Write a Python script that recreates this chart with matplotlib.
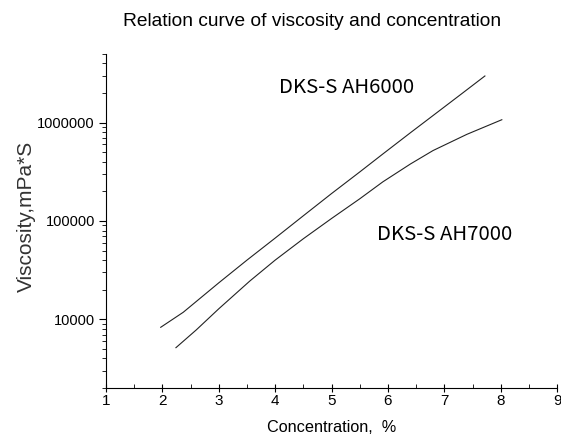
import matplotlib
matplotlib.use("Agg")
import matplotlib.pyplot as plt
from matplotlib.ticker import FixedLocator, LogLocator, NullFormatter, FuncFormatter

conc_6000 = [1.97, 2.37, 3.0, 3.5, 4.0, 4.5, 5.0, 5.5, 5.91, 6.4, 6.8, 7.3, 7.72]
visc_6000 = [8300, 11800, 23500, 40000, 67000, 113000, 190000, 315000,
             480000, 790000, 1180000, 1950000, 2980000]
conc_7000 = [2.24, 2.6, 3.0, 3.55, 4.0, 4.5, 5.0, 5.5, 5.91, 6.4, 6.8, 7.4, 8.02]
visc_7000 = [5150, 7800, 12800, 24500, 40000, 66000, 106000, 168000,
             250000, 380000, 520000, 760000, 1070000]

x_ticks = [1, 2, 3, 4, 5, 6, 7, 8, 9]
y_ticks = [10000, 100000, 1000000]

FONT = ["Liberation Sans", "DejaVu Sans"]
CJK = ["Noto Sans CJK SC", "DejaVu Sans"]


def main():
    fig = plt.figure(figsize=(5.61, 4.38), dpi=100)
    ax = fig.add_axes([0.189, 0.114, 0.804, 0.763])

    ax.plot(conc_6000, visc_6000, color="#222222", lw=0.8)
    ax.plot(conc_7000, visc_7000, color="#222222", lw=0.8)

    ax.set_yscale("log")
    ax.set_xlim(1, 9)
    ax.set_ylim(2000, 5e6)

    ax.xaxis.set_major_locator(FixedLocator(x_ticks))
    ax.xaxis.set_minor_locator(FixedLocator([v + 0.5 for v in x_ticks[:-1]]))
    ax.yaxis.set_major_locator(FixedLocator(y_ticks))
    ax.yaxis.set_minor_locator(LogLocator(base=10, subs=range(2, 10)))
    ax.yaxis.set_minor_formatter(NullFormatter())
    ax.yaxis.set_major_formatter(FuncFormatter(lambda v, p: f"{int(round(v))}"))

    for side in ("top", "right"):
        ax.spines[side].set_visible(False)
    for side in ("left", "bottom"):
        ax.spines[side].set_linewidth(0.8)
    ax.tick_params(axis="x", which="major", direction="inout", length=6, width=0.8,
                   labelsize=11, pad=1)
    ax.tick_params(axis="x", which="minor", direction="in", length=3, width=0.6)
    ax.tick_params(axis="y", which="major", direction="out", length=5, width=0.8,
                   labelsize=10.5, pad=3)
    ax.tick_params(axis="y", which="minor", direction="out", length=3, width=0.6)
    for lab in ax.get_xticklabels() + ax.get_yticklabels():
        lab.set_family(FONT)

    ax.set_xlabel("Concentration,  %", family=FONT, fontsize=11.7, labelpad=9)
    ax.set_ylabel("Viscosity,mPa*S", family=FONT, fontsize=15, color="#333333")
    ax.yaxis.set_label_coords(-0.155, 0.515)
    fig.text(0.556, 0.95, "Relation curve of viscosity and concentration",
             family=FONT, fontsize=13.8, ha="center", va="center")

    ax.text(5.26, 2.3e6, "DKS-S AH6000", family=CJK,
            fontsize=14.7, ha="center", va="center")
    ax.text(7.01, 73000, "DKS-S AH7000", family=CJK,
            fontsize=14.7, ha="center", va="center")

    fig.savefig("out.png", dpi=100)
    plt.close(fig)


if __name__ == "__main__":
    main()
